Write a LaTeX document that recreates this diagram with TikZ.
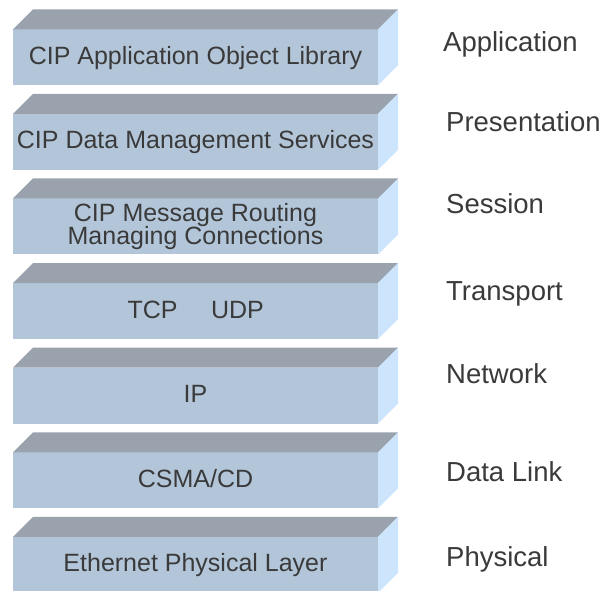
\documentclass[tikz,border=0pt]{standalone}
\usepackage{fontspec}
\setmainfont{Liberation Sans}
\usepackage{tikz}
\usetikzlibrary{
  calc,
}
\tikzstyle{layertext} = [
  text=textgray,
  font=\fontsize{25}{29}\selectfont,
  inner sep=0pt,
  anchor=base,
]
\tikzstyle{osilabel} = [
  text=textgray,
  font=\fontsize{27.5}{32}\selectfont,
  inner sep=0pt,
  anchor=base west,
]
\definecolor{frontblue}{RGB}{179, 198, 217}
\definecolor{topgray}{RGB}{154, 163, 173}
\definecolor{sideblue}{RGB}{204, 228, 252}
\definecolor{textgray}{RGB}{58, 58, 58}
\newcommand{\layerbox}[1]{%
  \fill [frontblue] (13, #1-56) rectangle (378, #1);
  \fill [topgray] (13, #1) -- (33, #1+20) -- (398, #1+20) -- (378, #1) -- cycle;
  \fill [sideblue] (378, #1) -- (398, #1+20) -- (398, #1-36) -- (378, #1-56) -- cycle;
}

\begin{document}
\begin{tikzpicture}[x=1pt, y=1pt]
      \useasboundingbox (0, 0) rectangle (605, 590);

      \layerbox{560.7}
      \layerbox{476.1}
      \layerbox{391.5}
      \layerbox{306.9}
      \layerbox{222.3}
      \layerbox{137.7}
      \layerbox{53.1}

      \node (objlib) [layertext] at (195.5, 525.7) {CIP Application Object Library};
      \node (datamgmt) [layertext] at (195.5, 441.1) {CIP Data Management Services};
      \node (msgroute) [layertext] at (195.5, 368.3) {CIP Message Routing};
      \node (conns) [layertext] at (195.5, 345) {Managing Connections};
      \node (tcp) [layertext] at (152.5, 271.9) {TCP};
      \node (udp) [layertext] at (237.5, 271.9) {UDP};
      \node (ip) [layertext] at (195.5, 187.3) {IP};
      \node (csma) [layertext] at (195.5, 102.7) {CSMA/CD};
      \node (ethphy) [layertext] at (195.5, 18.1) {Ethernet Physical Layer};

      \node (application) [osilabel] at (443, 538.3) {Application};
      \node (presentation) [osilabel] at (446, 458.3) {Presentation};
      \node (session) [osilabel] at (446, 376.7) {Session};
      \node (transport) [osilabel] at (446, 290) {Transport};
      \node (network) [osilabel] at (446, 206.7) {Network};
      \node (datalink) [osilabel] at (446, 108.3) {Data Link};
      \node (physical) [osilabel] at (446, 23.3) {Physical};
    \end{tikzpicture}
\end{document}
